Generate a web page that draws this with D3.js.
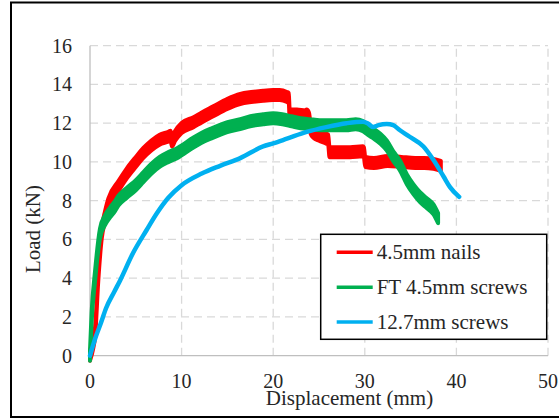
<!DOCTYPE html>
<html>
<head>
<meta charset="utf-8">
<script src="https://cdn.jsdelivr.net/npm/d3@7/dist/d3.min.js"></script>
<style>
  html, body { margin: 0; padding: 0; background: #fff; }
  svg { display: block; }
</style>
</head>
<body>
<svg id="chart" width="559" height="418"></svg>
<script>
// ---- data ----
const xTicks = [0, 10, 20, 30, 40, 50];
const yTicks = [0, 2, 4, 6, 8, 10, 12, 14, 16];
const seriesNames = ["4.5mm nails", "FT 4.5mm screws", "12.7mm screws"];

const nailsX = [0, 0.36, 0.55, 0.9, 1.28, 1.64, 2.0, 3.1, 4.0, 5.0, 5.8, 6.7, 7.6, 8.55, 8.8, 8.95, 9.3, 10.0, 11.3, 12.2, 13.4, 15.0, 16.4, 17.6, 18.9, 20.0, 20.7, 21.5, 21.7, 21.8, 22.6, 23.5, 23.65, 23.9, 24.1, 24.4, 25.0, 25.8, 26.0, 26.15, 27.0, 28.4, 29.8, 29.9, 30.05, 31.0, 32.5, 34.0, 35.5, 36.5, 37.5, 38.3];
const nailsY = [0, 0.65, 1.2, 4.1, 6.3, 7.2, 7.85, 8.75, 9.4, 10.0, 10.45, 10.85, 11.15, 11.3, 11.35, 11.05, 11.35, 11.75, 12.05, 12.3, 12.6, 13.0, 13.25, 13.35, 13.42, 13.45, 13.45, 13.35, 13.3, 12.45, 12.45, 12.4, 12.45, 12.3, 11.7, 11.5, 11.35, 11.2, 11.15, 10.5, 10.5, 10.5, 10.55, 10.5, 10.0, 9.95, 10.05, 10.0, 9.95, 9.95, 9.9, 9.8];

const ftX = [0, 0.18, 0.55, 1.09, 1.64, 2.2, 2.7, 3.1, 4.0, 5.0, 5.8, 6.7, 7.6, 8.55, 9.5, 10.0, 11.3, 12.2, 13.4, 15.0, 16.4, 17.5, 18.9, 20.0, 21.0, 22.0, 23.0, 24.0, 25.1, 26.0, 27.0, 28.0, 29.0, 29.8, 30.5, 31.0, 31.7, 32.4, 33.1, 33.8, 34.6, 35.3, 36.0, 36.7, 37.5, 38.0];
const ftY = [0, 2.0, 4.1, 6.3, 7.0, 7.4, 7.7, 8.0, 8.4, 8.8, 9.2, 9.65, 10.0, 10.25, 10.45, 10.6, 11.0, 11.25, 11.5, 11.8, 11.95, 12.1, 12.2, 12.25, 12.2, 12.1, 12.0, 11.95, 11.9, 11.9, 11.9, 11.9, 11.95, 11.85, 11.6, 11.45, 11.2, 10.85, 10.3, 9.85, 9.1, 8.6, 8.2, 7.9, 7.55, 7.1];

const boltX = [0, 0.65, 1.2, 1.75, 2.65, 3.3, 4.7, 6.2, 7.3, 8.55, 10.0, 12.2, 14.2, 16.4, 18.9, 20.0, 21.5, 23.65, 25.8, 28.0, 29.8, 30.3, 30.9, 31.5, 32.4, 33.1, 33.8, 34.9, 36.4, 37.5, 38.6, 39.3, 40.3];
const boltY = [0, 1.0, 1.7, 2.45, 3.3, 3.9, 5.3, 6.5, 7.35, 8.15, 8.8, 9.4, 9.8, 10.2, 10.8, 10.96, 11.2, 11.55, 11.8, 12.0, 12.08, 12.0, 11.8, 11.9, 11.96, 11.9, 11.65, 11.3, 10.8, 10.1, 9.25, 8.7, 8.2];

const colors = ["#ff0000", "#00b050", "#00b0f0"];

// ---- layout ----
const FONT = "'Liberation Serif', 'Times New Roman', Times, serif";
const svg = d3.select("#chart");
const x = d3.scaleLinear().domain([0, 50]).range([90, 548]);
const y = d3.scaleLinear().domain([0, 16]).range([355.7, 45.7]);

// outer border
svg.append("rect").attr("x", 11).attr("y", 2.5).attr("width", 560).attr("height", 414.5)
  .attr("fill", "none").attr("stroke", "#000").attr("stroke-width", 2);

// gridlines
const grid = svg.append("g");
grid.selectAll(".hg").data(yTicks.filter(d => d > 0)).join("line")
  .attr("x1", x(0)).attr("x2", x(50)).attr("y1", d => y(d)).attr("y2", d => y(d))
  .attr("stroke", "#d9d9d9").attr("stroke-width", 1.3).attr("stroke-dasharray", "8,5");
grid.selectAll(".vg").data(xTicks.filter(d => d > 0)).join("line")
  .attr("y1", y(0)).attr("y2", y(16)).attr("x1", d => x(d)).attr("x2", d => x(d))
  .attr("stroke", "#d9d9d9").attr("stroke-width", 1.3).attr("stroke-dasharray", "8,5");

// axis lines
svg.append("line").attr("x1", x(0)).attr("x2", x(0)).attr("y1", y(0)).attr("y2", y(16))
  .attr("stroke", "#bfbfbf").attr("stroke-width", 1.3);
svg.append("line").attr("x1", x(0)).attr("x2", x(50)).attr("y1", y(0)).attr("y2", y(0))
  .attr("stroke", "#bfbfbf").attr("stroke-width", 1.3);

// tick labels
svg.append("g").selectAll("text").data(yTicks).join("text")
  .attr("x", 72).attr("y", d => y(d) + 7).attr("text-anchor", "end")
  .attr("font-family", FONT).attr("fill", "#262626")
  .attr("font-size", 20).text(d => d);
svg.append("g").selectAll("text").data(xTicks).join("text")
  .attr("x", d => x(d)).attr("y", 388).attr("text-anchor", "middle")
  .attr("font-family", FONT).attr("fill", "#262626")
  .attr("font-size", 20).text(d => d);

// axis titles
svg.append("text").attr("x", 349.5).attr("y", 405).attr("text-anchor", "middle")
  .attr("font-family", FONT).attr("fill", "#262626")
  .attr("font-size", 21).text("Displacement (mm)");
svg.append("text").attr("transform", "translate(40,229) rotate(-90)").attr("text-anchor", "middle")
  .attr("font-family", FONT).attr("fill", "#262626")
  .attr("font-size", 21).text("Load (kN)");

// series
const band = 5;
function bandArea(xs, ys) {
  const pts = xs.map((v, i) => [v, ys[i]]);
  return d3.area().curve(d3.curveMonotoneX)
    .x(d => x(d[0])).y0(d => y(d[1]) + band).y1(d => y(d[1]) - band)(pts);
}
svg.append("path").attr("d", bandArea(nailsX, nailsY))
  .attr("fill", colors[0]).attr("stroke", colors[0]).attr("stroke-width", 4).attr("stroke-linejoin", "round");
svg.append("path").attr("d", bandArea(ftX, ftY))
  .attr("fill", colors[1]).attr("stroke", colors[1]).attr("stroke-width", 4).attr("stroke-linejoin", "round");
const line = d3.line().curve(d3.curveMonotoneX).x(d => x(d[0])).y(d => y(d[1]));
svg.append("path").attr("d", line(boltX.map((v, i) => [v, boltY[i]])))
  .attr("fill", "none").attr("stroke", colors[2]).attr("stroke-width", 4.5)
  .attr("stroke-linejoin", "round").attr("stroke-linecap", "round");

// legend
const lg = svg.append("g");
lg.append("rect").attr("x", 320.7).attr("y", 234.3).attr("width", 226).attr("height", 105)
  .attr("fill", "#fff").attr("stroke", "#000").attr("stroke-width", 1.5);
const rows = [252.3, 287.3, 322];
seriesNames.forEach((name, i) => {
  lg.append("line").attr("x1", 336.7).attr("x2", 372.7).attr("y1", rows[i]).attr("y2", rows[i])
    .attr("stroke", colors[i]).attr("stroke-width", 3.5);
  lg.append("text").attr("x", 376.7).attr("y", rows[i] + 7)
    .attr("font-family", FONT).attr("fill", "#262626")
    .attr("font-size", 21).text(name);
});
</script>
</body>
</html>
